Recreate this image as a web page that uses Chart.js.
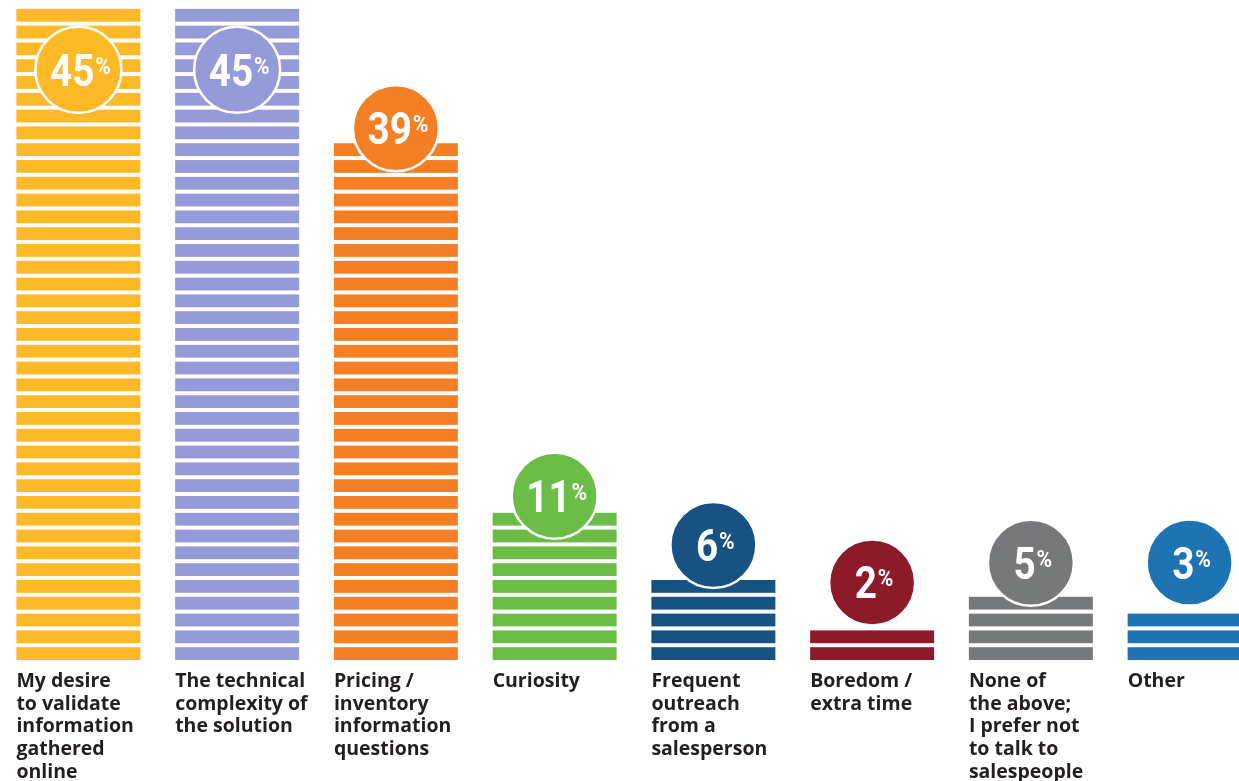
<!DOCTYPE html>
<html>
<head>
<meta charset="utf-8">
<script src="https://cdn.jsdelivr.net/npm/chart.js@4/dist/chart.umd.min.js"></script>
<style>
  html, body { margin: 0; padding: 0; background: #ffffff; overflow: hidden; width: 1239px; height: 781px; }
  #wrap { position: absolute; left: -1px; top: 0; width: 1270px; height: 781px; }
</style>
</head>
<body>
<div id="wrap"><canvas id="c" width="1270" height="781"></canvas></div>
<script>
// ---- data ----
const categories = [
  ["My desire", "to validate", "information", "gathered", "online"],
  ["The technical", "complexity of", "the solution"],
  ["Pricing /", "inventory", "information", "questions"],
  ["Curiosity"],
  ["Frequent", "outreach", "from a", "salesperson"],
  ["Boredom /", "extra time"],
  ["None of", "the above;", "I prefer not", "to talk to", "salespeople"],
  ["Other"]
];
const percentValues = [45, 45, 39, 11, 6, 2, 5, 3];
// bar height as drawn in the picture, counted in stripes
const stripeCounts = [39, 39, 31, 9, 5, 2, 4, 3];

// ---- styles ----
const barColors = ["#FDB927", "#959AD9", "#F47F24", "#6BBD47", "#175282", "#8D1A28", "#77787B", "#1E74B3"];
const badgeLift = [-61, -61, 15, 17, 35, 48, 34, 51]; // px of badge centre above bar top
const BADGE_R = 43;
const GAP = 0.238; // white gap fraction of each stripe period

const stripesAndBadges = {
  id: 'stripesAndBadges',
  afterDatasetsDraw(chart) {
    const ctx = chart.ctx;
    const ys = chart.scales.y;
    const meta = chart.getDatasetMeta(0);
    meta.data.forEach((bar, i) => {
      const n = stripeCounts[i];
      const left = bar.x - bar.width / 2;
      ctx.save();
      ctx.fillStyle = '#ffffff';
      for (let j = 0; j < n; j++) {
        let yTop = ys.getPixelForValue(j + 1);
        const yBot = ys.getPixelForValue(j + 1 - GAP);
        if (j === n - 1) yTop -= 3;
        ctx.fillRect(left - 1, yTop, bar.width + 2, yBot - yTop);
      }
      // badge
      const visibleTop = ys.getPixelForValue(n - GAP);
      const cx = bar.x;
      const cy = visibleTop - badgeLift[i];
      ctx.beginPath();
      ctx.arc(cx, cy, BADGE_R, 0, Math.PI * 2);
      ctx.fillStyle = barColors[i];
      ctx.fill();
      ctx.lineWidth = 2.5;
      ctx.strokeStyle = '#ffffff';
      ctx.stroke();
      // label
      ctx.translate(cx + 2, cy);
      ctx.scale(0.88, 1);
      ctx.fillStyle = '#ffffff';
      ctx.textBaseline = 'alphabetic';
      ctx.textAlign = 'left';
      const num = String(percentValues[i]);
      ctx.font = 'bold 44px Roboto';
      const wN = ctx.measureText(num).width;
      ctx.font = 'bold 24px Roboto';
      const wP = ctx.measureText('%').width;
      const gap = 1;
      const x0 = -(wN + gap + wP) / 2;
      ctx.font = 'bold 44px Roboto';
      ctx.fillText(num, x0, 16);
      ctx.font = 'bold 24px Roboto';
      ctx.fillText('%', x0 + wN + gap, 4);
      ctx.restore();
    });
  }
};

function draw() {
  new Chart(document.getElementById('c'), {
    type: 'bar',
    data: {
      labels: categories,
      datasets: [{
        data: stripeCounts,
        backgroundColor: barColors,
        borderWidth: 0,
        barPercentage: 0.781,
        categoryPercentage: 1.0
      }]
    },
    options: {
      responsive: false,
      animation: false,
      events: [],
      layout: { padding: 0 },
      plugins: { legend: { display: false }, tooltip: { enabled: false } },
      scales: {
        x: {
          grid: { display: false, drawTicks: false },
          border: { display: false },
          afterFit(scale) { scale.height = 121; },
          ticks: {
            autoSkip: false,
            maxRotation: 0,
            minRotation: 0,
            align: 'start',
            labelOffset: -62,
            padding: 10,
            color: '#231F20',
            font: { family: "'Open Sans'", weight: 'bold', size: 19.5, lineHeight: 1.165 }
          }
        },
        y: {
          display: false,
          min: 0,
          max: 39.29
        }
      }
    },
    plugins: [stripesAndBadges]
  });
}

if (document.fonts && document.fonts.load) {
  Promise.all([
    document.fonts.load("bold 20px 'Open Sans'"),
    document.fonts.load('bold 44px Roboto')
  ]).then(draw, draw);
} else {
  draw();
}
</script>
</body>
</html>
